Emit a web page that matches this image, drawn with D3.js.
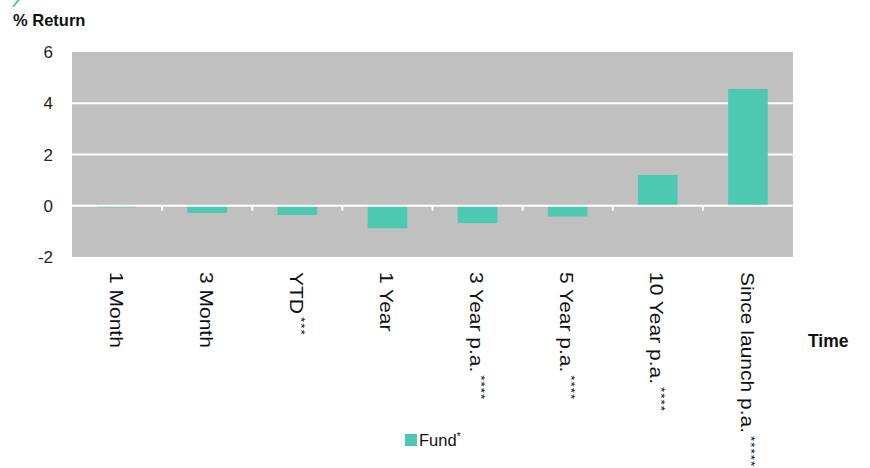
<!DOCTYPE html>
<html>
<head>
<meta charset="utf-8">
<script src="https://cdn.jsdelivr.net/npm/d3@7"></script>
<style>
  html, body { margin: 0; padding: 0; background: #fff; }
  svg { display: block; font-family: Arial, "Liberation Sans", sans-serif; }
</style>
</head>
<body>
<svg id="chart" width="870" height="468"></svg>
<script>
// Periods and fund returns (%)
const categories = ["1 Month", "3 Month", "YTD", "1 Year", "3 Year p.a.", "5 Year p.a.", "10 Year p.a.", "Since launch p.a."];
const footnotes = ["", "", "***", "", "****", "****", "****", "*****"];
const fundReturns = [-0.06, -0.28, -0.36, -0.88, -0.68, -0.42, 1.2, 4.56];
const yTicks = [-2, 0, 2, 4, 6];
const seriesName = "Fund";
const seriesNote = "*";

const svg = d3.select("#chart");
const margin = { left: 72, right: 77, top: 52, bottom: 212 };
const W = 870, H = 468;

const x = d3.scaleBand()
  .domain(categories)
  .range([margin.left, W - margin.right])
  .paddingInner(0.56)
  .paddingOuter(0.28);

const y = d3.scaleLinear()
  .domain([-2, 6])
  .range([H - margin.bottom + 1, margin.top]);

const teal = "#4ec9b1";
const grey = "#c0c0c0";

// small corner accent
svg.append("path")
  .attr("d", "M12,7 L17,0 L20,0 L14,7 Z")
  .attr("fill", teal);

// plot background
svg.append("rect")
  .attr("x", margin.left)
  .attr("y", y(6))
  .attr("width", W - margin.right - margin.left)
  .attr("height", y(-2) - y(6))
  .attr("fill", grey);

// horizontal gridlines
svg.append("g")
  .selectAll("line")
  .data(yTicks.filter(d => d > 0 && d < 6))
  .join("line")
  .attr("x1", margin.left)
  .attr("x2", W - margin.right)
  .attr("y1", d => y(d))
  .attr("y2", d => y(d))
  .attr("stroke", "#fff")
  .attr("stroke-width", 2);

// bars
svg.append("g")
  .selectAll("rect")
  .data(fundReturns)
  .join("rect")
  .attr("x", (d, i) => x(categories[i]))
  .attr("width", x.bandwidth())
  .attr("y", d => y(Math.max(0, d)))
  .attr("height", d => Math.abs(y(d) - y(0)))
  .attr("fill", teal);

// zero line with category boundary ticks
svg.append("line")
  .attr("x1", margin.left)
  .attr("x2", W - margin.right)
  .attr("y1", y(0))
  .attr("y2", y(0))
  .attr("stroke", "#fff")
  .attr("stroke-width", 2);

const step = x.step();
const boundaries = d3.range(1, categories.length).map(i => x(categories[i]) - step * x.paddingInner() / 2);
svg.append("g")
  .selectAll("line")
  .data(boundaries)
  .join("line")
  .attr("x1", d => d).attr("x2", d => d)
  .attr("y1", y(0)).attr("y2", y(0) + 5)
  .attr("stroke", "#fff")
  .attr("stroke-width", 2);

// y axis labels
svg.append("g")
  .selectAll("text")
  .data(yTicks)
  .join("text")
  .attr("x", 53)
  .attr("y", d => y(d))
  .attr("dy", "0.36em")
  .attr("text-anchor", "end")
  .attr("font-size", 17)
  .attr("fill", "#222")
  .text(d => d);

svg.append("text")
  .attr("x", 13)
  .attr("y", 26)
  .attr("font-size", 16.5)
  .attr("font-weight", "bold")
  .attr("fill", "#111")
  .text("% Return");

// rotated category labels
const labels = svg.append("g")
  .selectAll("text")
  .data(categories)
  .join("text")
  .attr("transform", d => `translate(${x(d) + x.bandwidth() / 2 - 1},272) rotate(90) scale(1,0.84)`)
  .attr("dominant-baseline", "central")
  .attr("font-size", 21)
  .attr("fill", "#111");
labels.append("tspan").text(d => d);
labels.append("tspan")
  .attr("dy", -5)
  .attr("dx", 3)
  .attr("font-size", 13.5)
  .attr("letter-spacing", 1)
  .text((d, i) => footnotes[i]);

svg.append("text")
  .attr("x", 808)
  .attr("y", 347)
  .attr("font-size", 17.5)
  .attr("font-weight", "bold")
  .attr("fill", "#111")
  .text("Time");

// legend
svg.append("rect")
  .attr("x", 405).attr("y", 434)
  .attr("width", 12).attr("height", 12)
  .attr("fill", teal);
const leg = svg.append("text")
  .attr("x", 419)
  .attr("y", 446)
  .attr("font-size", 16.5)
  .attr("fill", "#111");
leg.append("tspan").text(seriesName);
leg.append("tspan").attr("dy", -6).attr("font-size", 11).text(seriesNote);
</script>
</body>
</html>
